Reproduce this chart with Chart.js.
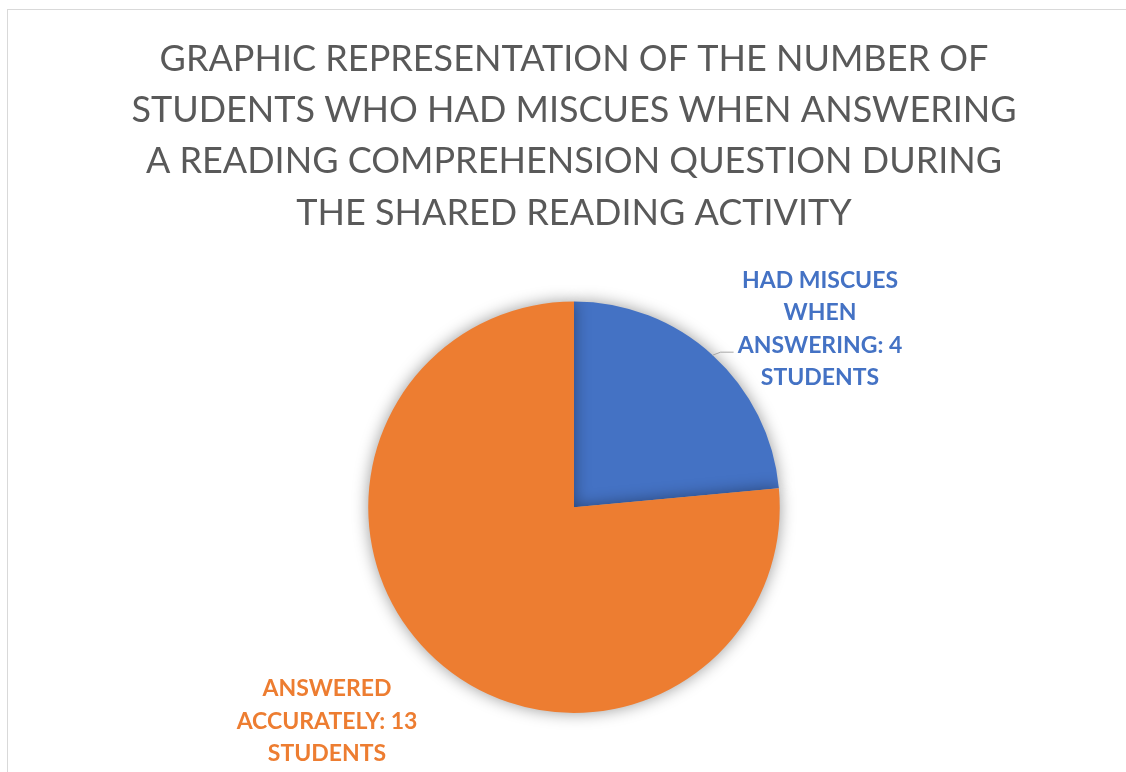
<!DOCTYPE html>
<html>
<head>
<meta charset="utf-8">
<script src="https://cdn.jsdelivr.net/npm/chart.js@4"></script>
<style>
  html, body { margin: 0; padding: 0; background: #fff; }
  #wrap { position: relative; width: 1126px; height: 772px; overflow: hidden; }
  #frame { position: absolute; left: 7px; top: 9px; width: 1130px; height: 800px; border: 1px solid #d9d9d9; box-sizing: border-box; }
  canvas { position: absolute; left: 0; top: 0; }
</style>
</head>
<body>
<div id="wrap">
  <div id="frame"></div>
  <canvas id="pieChart" width="1126" height="772"></canvas>
</div>
<script>
const titleLines = [
  'GRAPHIC REPRESENTATION OF THE NUMBER OF',
  'STUDENTS WHO HAD MISCUES WHEN ANSWERING',
  'A READING COMPREHENSION QUESTION DURING',
  'THE SHARED READING ACTIVITY'
];
const categories = ['HAD MISCUES WHEN ANSWERING', 'ANSWERED ACCURATELY'];
const studentCounts = [4, 13];
const sliceColors = ['#4472C4', '#ED7D31'];
// 外側ラベル（行ごとに折り返し済み）
const labelLines = [
  ['HAD MISCUES', 'WHEN', 'ANSWERING: 4', 'STUDENTS'],
  ['ANSWERED', 'ACCURATELY: 13', 'STUDENTS']
];

// 影（Officeっぽいぼかし）
const shadowPlugin = {
  id: 'shadow',
  beforeDatasetsDraw(chart) {
    const c = chart.ctx;
    c.save();
    c.shadowColor = 'rgba(0,0,0,0.4)';
    c.shadowBlur = 16;
    c.shadowOffsetX = 0;
    c.shadowOffsetY = 0;
  },
  afterDatasetsDraw(chart) {
    chart.ctx.restore();
  }
};

// データラベル + 引き出し線
const labelPlugin = {
  id: 'outLabels',
  afterDatasetsDraw(chart) {
    const c = chart.ctx;
    const arcs = chart.getDatasetMeta(0).data;
    const place = [
      { dx: 246, dy: -178, leader: true },
      { dx: -247, dy: 214, leader: false }
    ];
    arcs.forEach((arc, i) => {
      const mid = (arc.startAngle + arc.endAngle) / 2;
      const ex = arc.x + Math.cos(mid) * arc.outerRadius;
      const ey = arc.y + Math.sin(mid) * arc.outerRadius;
      const lx = arc.x + place[i].dx;
      const ly = arc.y + place[i].dy;
      const lines = labelLines[i];
      const lh = 32.5;
      c.save();
      if (place[i].leader) {
        c.strokeStyle = '#a6a6a6';
        c.lineWidth = 1;
        c.beginPath();
        c.moveTo(ex, ey);
        c.lineTo(ex + 8, ey - 3);
        c.lineTo(ex + 21, ey - 3);
        c.stroke();
      }
      c.fillStyle = sliceColors[i];
      c.font = 'bold 23px Lato';
      c.textAlign = 'center';
      c.textBaseline = 'middle';
      const top = ly - (lines.length - 1) * lh / 2;
      lines.forEach((t, k) => c.fillText(t, lx, top + k * lh));
      c.restore();
    });
  }
};

new Chart(document.getElementById('pieChart').getContext('2d'), {
  type: 'pie',
  data: {
    labels: categories,
    datasets: [{
      data: studentCounts,
      backgroundColor: sliceColors,
      borderWidth: 0,
      hoverOffset: 0
    }]
  },
  options: {
    responsive: false,
    animation: false,
    layout: { padding: { top: 0, bottom: 59, left: 22, right: 0 } },
    plugins: {
      legend: { display: false },
      tooltip: { enabled: false },
      title: {
        display: true,
        text: titleLines,
        color: '#595959',
        font: { family: 'Lato', size: 36, weight: 'normal', lineHeight: 1.42 },
        padding: { top: 34, bottom: 63 }
      }
    }
  },
  plugins: [shadowPlugin, labelPlugin]
});
</script>
</body>
</html>
